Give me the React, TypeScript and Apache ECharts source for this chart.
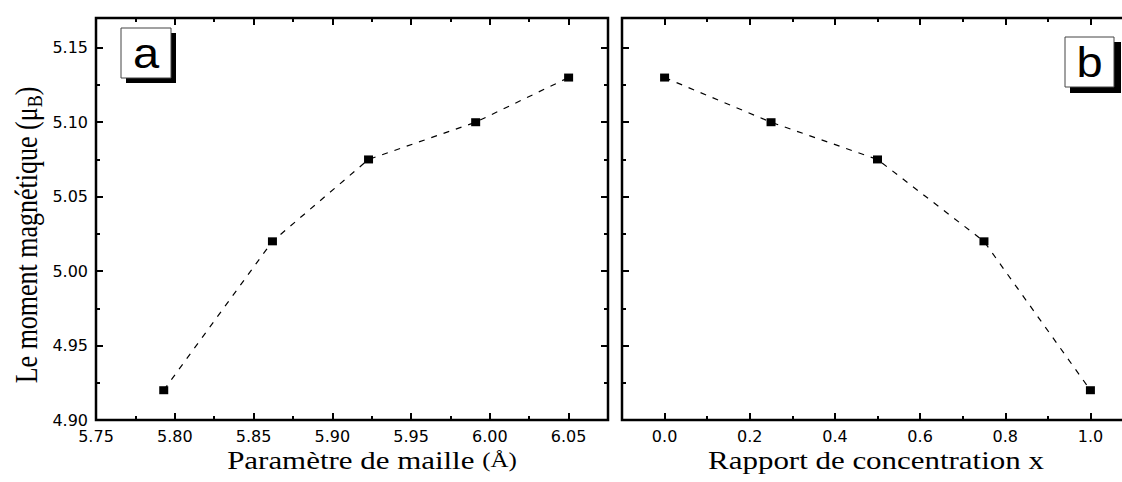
import React, { useEffect, useRef } from "react";
import * as echarts from "echarts";

// Panel (a): magnetic moment vs lattice parameter
const latticeParams = [5.793, 5.862, 5.923, 5.991, 6.05];
const momentsA = [4.92, 5.02, 5.075, 5.1, 5.13];
// Panel (b): magnetic moment vs concentration ratio x
const concentrations = [0.0, 0.25, 0.5, 0.75, 1.0];
const momentsB = [5.13, 5.1, 5.075, 5.02, 4.92];

// Tick values
const yMajorTicks = [4.9, 4.95, 5.0, 5.05, 5.1, 5.15];
const yMinorTicks = [4.925, 4.975, 5.025, 5.075, 5.125];
const xAMajorTicks = [5.75, 5.8, 5.85, 5.9, 5.95, 6.0, 6.05];
const xAMinorTicks = [5.775, 5.825, 5.875, 5.925, 5.975, 6.025];
const xBMajorTicks = [0.0, 0.2, 0.4, 0.6, 0.8, 1.0];
const xBMinorTicks = [0.1, 0.3, 0.5, 0.7, 0.9];

const Y_MIN = 4.9;
const Y_MAX = 5.17;
const XA_MIN = 5.75;
const XA_MAX = 6.075;
const XB_MIN = -0.1;
const XB_MAX = 1.1;

const SERIF = "'Liberation Serif', 'Times New Roman', serif";
const SANS = "'DejaVu Sans', sans-serif";
const ARIAL = "'Liberation Sans', Arial, sans-serif";

function makeAxis(
  gridIndex: number,
  position: string,
  min: number,
  max: number,
  values: number[],
  length: number,
  showLabel: boolean,
  decimals: number
) {
  return {
    type: "value",
    gridIndex,
    position,
    min,
    max,
    axisLine: { show: false, onZero: false },
    splitLine: { show: false },
    axisTick: {
      show: true,
      inside: true,
      length,
      customValues: values,
      lineStyle: { color: "#000", width: 2 },
    },
    axisLabel: {
      show: showLabel,
      customValues: values,
      margin: 8,
      color: "#000",
      fontSize: 16,
      fontFamily: SANS,
      formatter: (v: number) => v.toFixed(decimals),
    },
  };
}

export default function App() {
  const ref = useRef<HTMLDivElement>(null);

  useEffect(() => {
    if (!ref.current) return;
    const chart = echarts.init(ref.current, undefined, { renderer: "svg" });

    const MAJ = 7;
    const MIN = 4;

    const xAxis = [
      makeAxis(0, "bottom", XA_MIN, XA_MAX, xAMajorTicks, MAJ, true, 2),
      makeAxis(0, "bottom", XA_MIN, XA_MAX, xAMinorTicks, MIN, false, 2),
      makeAxis(0, "top", XA_MIN, XA_MAX, xAMajorTicks, MAJ, false, 2),
      makeAxis(0, "top", XA_MIN, XA_MAX, xAMinorTicks, MIN, false, 2),
      makeAxis(1, "bottom", XB_MIN, XB_MAX, xBMajorTicks, MAJ, true, 1),
      makeAxis(1, "bottom", XB_MIN, XB_MAX, xBMinorTicks, MIN, false, 1),
      makeAxis(1, "top", XB_MIN, XB_MAX, xBMajorTicks, MAJ, false, 1),
      makeAxis(1, "top", XB_MIN, XB_MAX, xBMinorTicks, MIN, false, 1),
    ];
    const yAxis = [
      makeAxis(0, "left", Y_MIN, Y_MAX, yMajorTicks, MAJ, true, 2),
      makeAxis(0, "left", Y_MIN, Y_MAX, yMinorTicks, MIN, false, 2),
      makeAxis(0, "right", Y_MIN, Y_MAX, yMajorTicks, MAJ, false, 2),
      makeAxis(0, "right", Y_MIN, Y_MAX, yMinorTicks, MIN, false, 2),
      makeAxis(1, "left", Y_MIN, Y_MAX, yMajorTicks, MAJ, false, 2),
      makeAxis(1, "left", Y_MIN, Y_MAX, yMinorTicks, MIN, false, 2),
      makeAxis(1, "right", Y_MIN, Y_MAX, yMajorTicks, MAJ, false, 2),
      makeAxis(1, "right", Y_MIN, Y_MAX, yMinorTicks, MIN, false, 2),
    ];

    const lineStyle = { color: "#000", width: 1.2, type: [6, 7] as any };
    const itemStyle = { color: "#000" };

    const stretch = 1.19;

    chart.setOption({
      animation: false,
      backgroundColor: "#fff",
      grid: [
        {
          left: 96,
          top: 18,
          width: 512,
          height: 402,
          show: true,
          borderColor: "#000",
          borderWidth: 2.5,
          backgroundColor: "transparent",
        },
        {
          left: 622,
          top: 18,
          width: 511,
          height: 402,
          show: true,
          borderColor: "#000",
          borderWidth: 2.5,
          backgroundColor: "transparent",
        },
      ],
      xAxis,
      yAxis,
      series: [
        {
          type: "line",
          xAxisIndex: 0,
          yAxisIndex: 0,
          data: latticeParams.map((x, i) => [x, momentsA[i]]),
          symbol: "rect",
          symbolSize: [9, 8],
          itemStyle,
          lineStyle,
        },
        {
          type: "line",
          xAxisIndex: 4,
          yAxisIndex: 4,
          data: concentrations.map((x, i) => [x, momentsB[i]]),
          symbol: "rect",
          symbolSize: [9, 8],
          itemStyle,
          lineStyle,
        },
      ],
      graphic: [
        {
          type: "text",
          x: 27,
          y: 235,
          rotation: Math.PI / 2,
          scaleY: stretch,
          style: {
            text: "{t|Le moment magnétique (μ}{s|B}{t|)}",
            align: "center",
            verticalAlign: "middle",
            fill: "#000",
            rich: {
              t: { fontSize: 26, fontFamily: SERIF, fill: "#000" },
              s: { fontSize: 18, fontFamily: SERIF, fill: "#000", padding: [12, 0, 0, 0] },
            },
          },
        },
        {
          type: "text",
          x: 372,
          y: 460,
          scaleX: stretch,
          style: {
            text: "{t|Paramètre de maille }{s|(Å)}",
            align: "center",
            verticalAlign: "middle",
            fill: "#000",
            rich: {
              t: { fontSize: 26, fontFamily: SERIF, fill: "#000" },
              s: { fontSize: 21, fontFamily: SERIF, fill: "#000" },
            },
          },
        },
        {
          type: "text",
          x: 876,
          y: 460,
          scaleX: stretch,
          style: {
            text: "Rapport de concentration x",
            align: "center",
            verticalAlign: "middle",
            fill: "#000",
            fontSize: 26,
            fontFamily: SERIF,
          },
        },
        // label box a
        { type: "rect", shape: { x: 126, y: 33, width: 50, height: 50 }, style: { fill: "#000" } },
        {
          type: "rect",
          shape: { x: 121, y: 28, width: 50, height: 50 },
          style: { fill: "#fff", stroke: "#444", lineWidth: 1 },
        },
        {
          type: "text",
          x: 146,
          y: 53,
          scaleX: 1.12,
          style: {
            text: "a",
            align: "center",
            verticalAlign: "middle",
            fontSize: 42,
            fontFamily: ARIAL,
            fill: "#000",
          },
        },
        // label box b
        { type: "rect", shape: { x: 1070, y: 42, width: 51, height: 51 }, style: { fill: "#000" } },
        {
          type: "rect",
          shape: { x: 1065, y: 37, width: 49, height: 50 },
          style: { fill: "#fff", stroke: "#444", lineWidth: 1 },
        },
        {
          type: "text",
          x: 1089.5,
          y: 62,
          scaleX: 1.12,
          style: {
            text: "b",
            align: "center",
            verticalAlign: "middle",
            fontSize: 42,
            fontFamily: ARIAL,
            fill: "#000",
          },
        },
      ],
    });

    return () => {
      chart.dispose();
    };
  }, []);

  return (
    <div
      style={{
        position: "absolute",
        left: 0,
        top: 0,
        width: 1122,
        height: 482,
        overflow: "hidden",
        background: "#fff",
      }}
    >
      <div ref={ref} style={{ width: 1135, height: 482 }} />
    </div>
  );
}
